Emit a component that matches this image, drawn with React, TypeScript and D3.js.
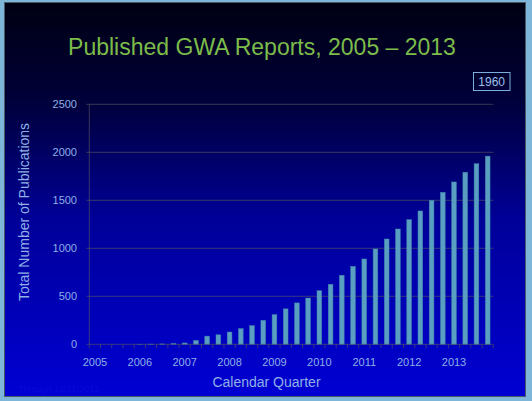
import React from "react";
import * as d3 from "d3";

const years = ["2005", "2006", "2007", "2008", "2009", "2010", "2011", "2012", "2013"];
const quarters = ["Q1", "Q2", "Q3", "Q4"];
const values = [
  0, 0, 0, 0, 1, 2, 4, 9, 14, 40, 85, 99,
  128, 163, 194, 250, 309, 369, 431, 482, 558, 625, 719, 812,
  889, 993, 1097, 1201, 1298, 1389, 1500, 1583, 1691, 1792, 1881, 1960,
];
const yTicks = [0, 500, 1000, 1500, 2000, 2500];
const title = "Published GWA Reports, 2005 \u2013 2013";
const yTitle = "Total Number of Publications";
const xTitle = "Calendar Quarter";
const latestLabel = "1960";
const footnote = "Through 12/31/2013";

const W = 532;
const H = 401;
const FONT = "'Liberation Sans', Arial, sans-serif";

export default function App() {
  const cats = years.flatMap((y) => quarters.map((q) => `${y} ${q}`));
  const x = d3.scaleBand<string>().domain(cats).range([89.3, 493.3]).paddingInner(0.58).paddingOuter(0.29);
  const step = x.step();
  const x0 = 89.3;
  const y = d3.scaleLinear().domain([0, 2500]).range([344.3, 104.3]);
  const gridColor = "rgba(85,85,95,0.65)";
  const tickColor = "#8fb1e6";

  return (
    <div style={{ position: "fixed", left: 0, top: 0 }}>
      <svg width={W} height={H} style={{ display: "block" }}>
        <defs>
          <linearGradient id="bg" x1="0" y1="0" x2="0" y2="1">
            <stop offset="0" stopColor="#000012" />
            <stop offset="0.25" stopColor="#00003a" />
            <stop offset="0.55" stopColor="#000098" />
            <stop offset="1" stopColor="#0000d4" />
          </linearGradient>
        </defs>
        <rect x={0} y={0} width={W} height={H} fill="#7db6d9" />
        <rect x={4.5} y={2.5} width={521} height={394} fill="url(#bg)" stroke="#4b5866" strokeWidth={1} />

        <text x={262} y={55} textAnchor="middle" fill="#7cbc4a" fontFamily={FONT} fontSize={23}>
          {title}
        </text>

        <rect x={473.5} y={72.5} width={36.5} height={18} fill="none" stroke="#7aaedc" strokeWidth={1} />
        <text x={491.7} y={86} textAnchor="middle" fill="#9cc0ea" fontFamily={FONT} fontSize={12}>
          {latestLabel}
        </text>

        {yTicks.map((t) => (
          <g key={t}>
            {t > 0 && <line x1={x0} x2={493.3} y1={y(t)} y2={y(t)} stroke={gridColor} strokeWidth={1} />}
            <line x1={x0 - 3} x2={x0} y1={y(t)} y2={y(t)} stroke={gridColor} strokeWidth={1} />
            <text x={77} y={y(t) + 4} textAnchor="end" fill={tickColor} fontFamily={FONT} fontSize={11}>
              {t}
            </text>
          </g>
        ))}

        {cats.map((c, i) => (
          <rect
            key={c}
            x={x(c)}
            y={y(values[i])}
            width={x.bandwidth()}
            height={y(0) - y(values[i])}
            fill="#5a9fc2"
            stroke="#3d82ad"
            strokeWidth={0.5}
          />
        ))}

        <line x1={x0} x2={x0} y1={y(2500)} y2={y(0)} stroke={gridColor} strokeWidth={1} />
        <line x1={x0} x2={493.3} y1={y(0)} y2={y(0)} stroke={gridColor} strokeWidth={1} />
        {d3.range(cats.length + 1).map((i) => (
          <line key={i} x1={x0 + i * step} x2={x0 + i * step} y1={y(0)} y2={y(0) + 4} stroke={gridColor} strokeWidth={1} />
        ))}
        {years.map((yr) => (
          <text
            key={yr}
            x={(x(`${yr} Q1`) as number) + x.bandwidth() / 2}
            y={366}
            textAnchor="middle"
            fill={tickColor}
            fontFamily={FONT}
            fontSize={11}
          >
            {yr}
          </text>
        ))}

        <text x={266.5} y={386.5} textAnchor="middle" fill={tickColor} fontFamily={FONT} fontSize={14}>
          {xTitle}
        </text>
        <text
          transform={`translate(29,212) rotate(-90)`}
          textAnchor="middle"
          fill={tickColor}
          fontFamily={FONT}
          fontSize={14}
        >
          {yTitle}
        </text>
        <text x={18} y={392} fill="#0a0ad8" fontFamily={FONT} fontSize={9}>
          {footnote}
        </text>
      </svg>
    </div>
  );
}
